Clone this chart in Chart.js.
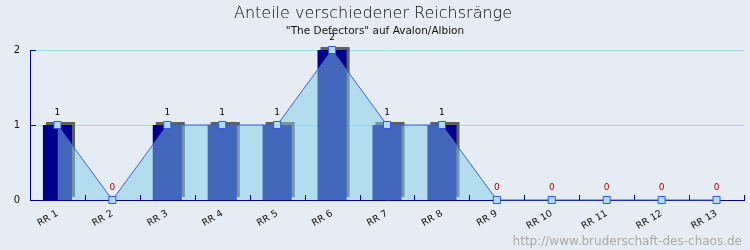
<!DOCTYPE html>
<html><head><meta charset="utf-8">
<script src="https://cdn.jsdelivr.net/npm/chart.js@4/dist/chart.umd.min.js"></script>
<style>html,body{margin:0;padding:0;background:#e5ecf3;}#wrap{width:750px;height:250px;}</style>
</head><body><div id="wrap"><canvas id="c" width="750" height="250"></canvas></div>
<script>
const categories = ["RR 1","RR 2","RR 3","RR 4","RR 5","RR 6","RR 7","RR 8","RR 9","RR 10","RR 11","RR 12","RR 13"];
const counts = [1,0,1,1,1,2,1,1,0,0,0,0,0];
const yTicks = [0,1,2];
const titleText = "Anteile verschiedener Reichsränge";
const subtitleText = "\"The Defectors\" auf Avalon/Albion";
const footerText = "http://www.bruderschaft-des-chaos.de";

const NAVY = '#000099';

const decor = {
  id: 'decor',
  beforeDatasetDraw(chart, args) {
    if (args.index === 0) {
      const ctx = chart.ctx; ctx.save();
      ctx.shadowColor = '#606060'; ctx.shadowOffsetX = 3; ctx.shadowOffsetY = -3; ctx.shadowBlur = 0;
    }
  },
  afterDatasetDraw(chart, args) {
    if (args.index === 0) chart.ctx.restore();
  },
  afterDraw(chart) {
    const ctx = chart.ctx, xs = chart.scales.x, ys = chart.scales.y, ca = chart.chartArea;
    ctx.save();
    // titles
    ctx.textAlign = 'center'; ctx.textBaseline = 'alphabetic';
    ctx.fillStyle = '#000';
    ctx.font = '200 16px "DejaVu Sans"';
    ctx.fillText(titleText, 373, 18);
    ctx.font = '10.5px "DejaVu Sans"';
    ctx.fillStyle = '#111';
    ctx.fillText(subtitleText, 375, 34);
    // footer
    ctx.textAlign = 'right';
    ctx.fillStyle = '#aaaaaa';
    ctx.font = '12px "DejaVu Sans"';
    ctx.fillText(footerText, 742, 245);
    // inward ticks
    ctx.strokeStyle = NAVY; ctx.lineWidth = 1;
    ctx.beginPath();
    const n = categories.length;
    for (let i = 0; i <= n; i++) {
      let x;
      if (i === n) x = ca.right; else if (i === 0) x = ca.left;
      else x = (xs.getPixelForValue(i - 1) + xs.getPixelForValue(i)) / 2;
      x = Math.round(x) + 0.5;
      ctx.moveTo(x, ca.bottom); ctx.lineTo(x, ca.bottom - 5);
    }
    yTicks.forEach(v => {
      if (v === 0) return;
      const y = Math.round(ys.getPixelForValue(v)) + 0.5;
      ctx.moveTo(ca.left, y); ctx.lineTo(ca.left + 6, y);
    });
    ctx.stroke();
    // value labels
    const meta = chart.getDatasetMeta(1);
    ctx.textAlign = 'center'; ctx.textBaseline = 'middle';
    ctx.font = '9px "DejaVu Sans"';
    meta.data.forEach((pt, i) => {
      const v = counts[i];
      ctx.fillStyle = v === 0 ? '#aa0000' : '#000000';
      ctx.fillText(String(v), pt.x, pt.y - 12);
    });
    ctx.restore();
  }
};

new Chart(document.getElementById('c'), {
  data: {
    labels: categories,
    datasets: [
      { type: 'bar', data: counts, backgroundColor: '#000088', borderWidth: 0,
        barPercentage: 0.53, categoryPercentage: 1, order: 2, clip: false },
      { type: 'line', data: counts, borderColor: '#3f5fd0', borderWidth: 1, tension: 0,
        fill: 'origin', backgroundColor: 'rgba(132,204,236,0.5)',
        pointStyle: 'rect', pointRadius: 5, pointBackgroundColor: '#b0dcf0',
        pointBorderColor: '#3355ee', pointBorderWidth: 1, order: 1, clip: false }
    ]
  },
  options: {
    responsive: false, animation: false, devicePixelRatio: 1,
    layout: { padding: { top: 50, right: 5, left: 0, bottom: 0 } },
    plugins: { legend: { display: false }, tooltip: { enabled: false }, title: { display: false } },
    scales: {
      x: {
        offset: true,
        grid: { display: false, drawTicks: false },
        border: { display: true, color: NAVY, width: 1 },
        ticks: { color: '#111', font: { family: 'DejaVu Sans', size: 9.5 }, maxRotation: 30, minRotation: 30, padding: 8 },
        afterFit(s) { s.height = 50; }
      },
      y: {
        min: 0, max: 2,
        afterBuildTicks(s) { s.ticks = yTicks.map(v => ({ value: v })); },
        grid: { color: '#a8dcec', drawTicks: false, lineWidth: ctx => ctx.tick && ctx.tick.value === 0 ? 0 : 1 },
        border: { display: true, color: NAVY, width: 1 },
        ticks: { color: '#111', font: { family: 'DejaVu Sans', size: 10 }, padding: 10 },
        afterFit(s) { s.width = 30; }
      }
    }
  },
  plugins: [decor]
});
</script></body></html>
